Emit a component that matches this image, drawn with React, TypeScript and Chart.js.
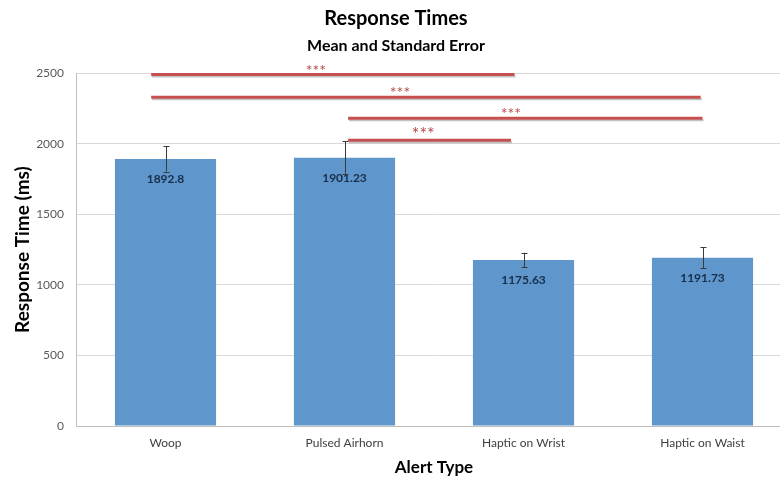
import React, { useEffect, useRef } from "react";
import { Chart, registerables } from "chart.js";

Chart.register(...registerables);

const categories = ["Woop", "Pulsed Airhorn", "Haptic on Wrist", "Haptic on Waist"];
const meanTimes = [1892.8, 1901.23, 1175.63, 1191.73];
const stdErrors = [90, 115, 52, 75];

// significance brackets (category positions and level in ms)
const bracketFrom = [-0.08, -0.08, 1.02, 1.02];
const bracketTo = [1.95, 2.99, 3.0, 1.93];
const bracketLevel = [2490, 2330, 2180, 2025];
const bracketLabelAt = [0.84, 1.31, 1.93, 1.44];
const bracketLabel = ["***", "***", "***", "***"];

const yTicks = [0, 500, 1000, 1500, 2000, 2500];

const FONT = "Lato, 'Open Sans', sans-serif";

const overlayPlugin = {
  id: "overlay",
  afterDatasetsDraw(chart: any) {
    const ctx = chart.ctx;
    const xs = chart.scales.x;
    const ys = chart.scales.y;
    const meta = chart.getDatasetMeta(0);
    ctx.save();
    // value labels
    ctx.font = `bold 12px ${FONT}`;
    ctx.fillStyle = "#172f4a";
    ctx.textAlign = "center";
    ctx.textBaseline = "middle";
    meta.data.forEach((bar: any, i: number) => {
      ctx.fillText(String(meanTimes[i]), bar.x, bar.y + 20);
    });
    // error bars
    ctx.strokeStyle = "#3a3a3a";
    ctx.lineWidth = 1;
    meta.data.forEach((bar: any, i: number) => {
      const top = ys.getPixelForValue(meanTimes[i] + stdErrors[i]);
      const bot = ys.getPixelForValue(meanTimes[i] - stdErrors[i]);
      const x = Math.round(bar.x) + 0.5;
      ctx.beginPath();
      ctx.moveTo(x, top);
      ctx.lineTo(x, bot);
      ctx.moveTo(x - 3, Math.round(top) + 0.5);
      ctx.lineTo(x + 3, Math.round(top) + 0.5);
      ctx.moveTo(x - 3, Math.round(bot) + 0.5);
      ctx.lineTo(x + 3, Math.round(bot) + 0.5);
      ctx.stroke();
    });
    // brackets
    bracketLevel.forEach((lvl, i) => {
      const x1 = xs.getPixelForValue(bracketFrom[i]);
      const x2 = xs.getPixelForValue(bracketTo[i]);
      const y = ys.getPixelForValue(lvl);
      ctx.lineCap = "butt";
      ctx.strokeStyle = "rgba(120,120,120,0.45)";
      ctx.lineWidth = 2;
      ctx.beginPath();
      ctx.moveTo(x1 + 1, y + 2);
      ctx.lineTo(x2 + 1, y + 2);
      ctx.stroke();
      ctx.strokeStyle = "#c5504f";
      ctx.lineWidth = 3;
      ctx.beginPath();
      ctx.moveTo(x1, y);
      ctx.lineTo(x2, y);
      ctx.stroke();
      ctx.fillStyle = "#b5484a";
      ctx.font = `${i === 3 ? 18 : 16}px ${FONT}`;
      ctx.textBaseline = "alphabetic";
      ctx.fillText(bracketLabel[i], xs.getPixelForValue(bracketLabelAt[i]), y + (i === 3 ? 0 : 1));
    });
    ctx.restore();
  },
};

export default function App() {
  const ref = useRef<HTMLCanvasElement | null>(null);
  useEffect(() => {
    if (!ref.current) return;
    const chart = new Chart(ref.current, {
      type: "bar",
      data: {
        labels: categories,
        datasets: [
          {
            data: meanTimes,
            backgroundColor: "#5f96cc",
            borderWidth: 0,
            barPercentage: 0.565,
            categoryPercentage: 1,
          },
        ],
      },
      options: {
        responsive: false,
        animation: false,
        layout: { padding: { left: 0, right: 8, top: 0, bottom: 0 } },
        plugins: {
          legend: { display: false },
          tooltip: { enabled: false },
          title: {
            display: true,
            text: "Response Times",
            color: "#000",
            font: { family: FONT, size: 20, weight: "bold" },
            padding: { top: 7, bottom: 5 },
          },
          subtitle: {
            display: true,
            text: "Mean and Standard Error",
            color: "#000",
            font: { family: FONT, size: 16, weight: "bold" },
            padding: { top: 0, bottom: 18 },
          },
        },
        scales: {
          x: {
            grid: { display: false, drawTicks: false },
            border: { color: "#bfbfbf" },
            ticks: {
              color: "#404040",
              font: { family: FONT, size: 12 },
              padding: 10,
            },
            title: {
              display: true,
              text: "Alert Type",
              color: "#000",
              font: { family: FONT, size: 17, weight: "bold" },
              padding: { top: 0, bottom: 4 },
            },
            afterFit: (s: any) => {
              s.height = 56;
            },
          },
          y: {
            min: 0,
            max: 2500,
            afterBuildTicks: (s: any) => {
              s.ticks = yTicks.map((v) => ({ value: v }));
            },
            grid: { color: "#d9d9d9", drawTicks: false },
            border: { color: "#bfbfbf" },
            ticks: {
              color: "#595959",
              font: { family: FONT, size: 12 },
              padding: 12,
              callback: (v: any) => String(v),
            },
            title: {
              display: true,
              text: "Response Time (ms)",
              color: "#000",
              font: { family: FONT, size: 19, weight: "bold" },
              padding: { top: 11, bottom: 0 },
            },
            afterFit: (s: any) => {
              s.width = 76;
            },
          },
        },
      },
      plugins: [overlayPlugin],
    });
    return () => chart.destroy();
  }, []);
  return (
    <div
      style={{
        position: "fixed",
        left: 0,
        top: 0,
        width: 780,
        height: 482,
        overflow: "hidden",
        background: "#fff",
      }}
    >
      <canvas ref={ref} width={800} height={482} style={{ display: "block" }} />
    </div>
  );
}
